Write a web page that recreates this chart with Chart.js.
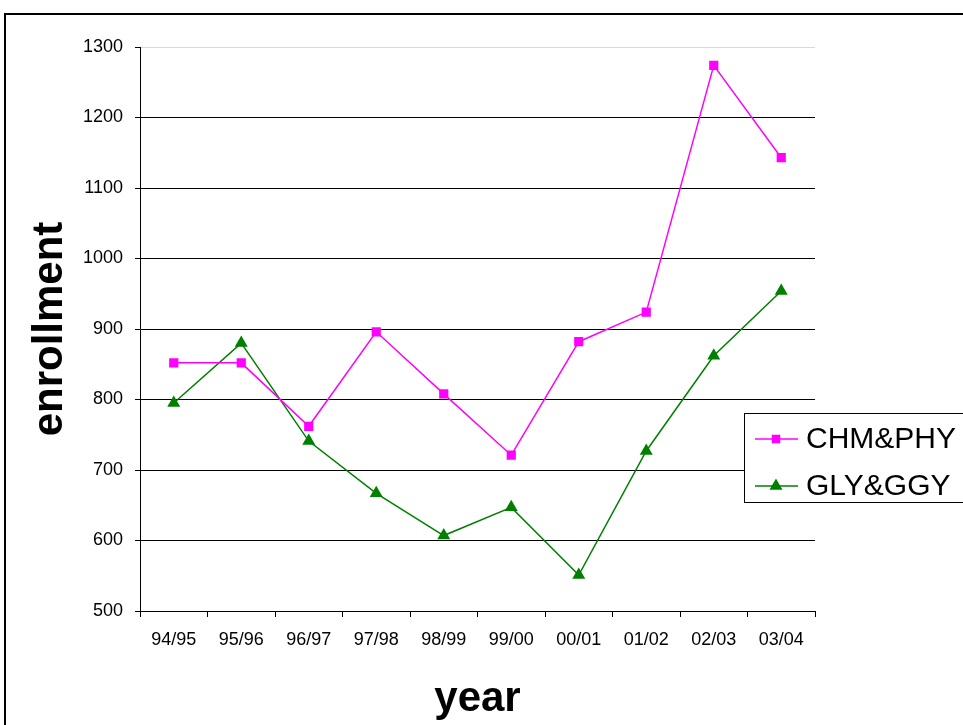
<!DOCTYPE html>
<html lang="en">
<head>
    <meta charset="UTF-8">
    <title>Enrollment by year</title>
    <script src="https://cdn.jsdelivr.net/npm/chart.js"></script>
    <style>
        html, body {
            margin: 0;
            padding: 0;
            background: #fff;
        }
        #wrap {
            width: 963px;
            height: 725px;
        }
    </style>
</head>
<body>

    <div id="wrap"><canvas id="chartEnroll" width="963" height="725"></canvas></div>

    <script>
        // data
        const years = ['94/95', '95/96', '96/97', '97/98', '98/99', '99/00', '00/01', '01/02', '02/03', '03/04'];
        const chmPhy = [852, 852, 762, 896, 808, 721, 882, 924, 1274, 1143];
        const glyGgy = [795, 880, 741, 667, 607, 647, 551, 727, 862, 954];

        // frame round the whole picture (runs off the right and bottom)
        const framePlugin = {
            id: 'frame',
            beforeDraw(chart) {
                const ctx = chart.ctx;
                ctx.save();
                ctx.strokeStyle = '#000';
                ctx.lineWidth = 2;
                ctx.beginPath();
                ctx.moveTo(5, 740);
                ctx.lineTo(5, 14);
                ctx.lineTo(980, 14);
                ctx.stroke();
                ctx.restore();
            }
        };

        // legend box like the original, sitting over the right edge
        const legendBox = {
            id: 'legendBox',
            afterDraw(chart) {
                const ctx = chart.ctx;
                const x0 = 744, y0 = 413, rowY = [439, 486];
                ctx.save();
                ctx.fillStyle = '#fff';
                ctx.fillRect(x0, y0, 240, 89);
                ctx.strokeStyle = '#000';
                ctx.lineWidth = 1;
                ctx.strokeRect(x0 + 0.5, y0 + 0.5, 240, 89);
                chart.data.datasets.forEach((ds, i) => {
                    const y = rowY[i];
                    ctx.strokeStyle = ds.borderColor;
                    ctx.lineWidth = ds.borderWidth;
                    ctx.beginPath();
                    ctx.moveTo(755, y);
                    ctx.lineTo(798, y);
                    ctx.stroke();
                    ctx.fillStyle = ds.pointBackgroundColor;
                    ctx.strokeStyle = ds.pointBorderColor;
                    Chart.helpers.drawPoint(ctx, {
                        pointStyle: ds.pointStyle,
                        radius: ds.pointRadius - 1.5,
                        borderWidth: 1
                    }, 776, y);
                    ctx.fillStyle = '#000';
                    ctx.font = '30px "Liberation Sans", Arial, sans-serif';
                    ctx.textBaseline = 'middle';
                    ctx.fillText(ds.label, 806, y + 1);
                });
                ctx.restore();
            }
        };

        const tickFont = { family: '"Liberation Sans", Arial, sans-serif', size: 18 };
        const titleFont = { family: '"Liberation Sans", Arial, sans-serif', size: 42, weight: 'bold' };

        new Chart(document.getElementById('chartEnroll').getContext('2d'), {
            type: 'line',
            data: {
                labels: years,
                datasets: [
                    {
                        label: 'CHM&PHY',
                        data: chmPhy,
                        borderColor: '#ff00ff',
                        borderWidth: 1.5,
                        pointStyle: 'rect',
                        pointRadius: 6.5,
                        pointBackgroundColor: '#ff00ff',
                        pointBorderColor: '#ff00ff',
                        pointBorderWidth: 0,
                        tension: 0,
                        fill: false
                    },
                    {
                        label: 'GLY&GGY',
                        data: glyGgy,
                        borderColor: '#008000',
                        borderWidth: 1.5,
                        pointStyle: 'triangle',
                        pointRadius: 7.5,
                        pointBackgroundColor: '#008000',
                        pointBorderColor: '#008000',
                        pointBorderWidth: 0,
                        tension: 0,
                        fill: false
                    }
                ]
            },
            options: {
                responsive: false,
                animation: false,
                layout: {
                    padding: { top: 47, right: 148, left: 0, bottom: 0 }
                },
                plugins: {
                    legend: { display: false },
                    tooltip: { enabled: false }
                },
                scales: {
                    x: {
                        offset: true,
                        afterFit(scale) { scale.height = 114; },
                        grid: {
                            offset: true,
                            drawOnChartArea: false,
                            drawTicks: true,
                            tickLength: 6,
                            tickColor: '#000'
                        },
                        border: { color: '#000', width: 1 },
                        ticks: {
                            color: '#000',
                            font: tickFont,
                            padding: 12,
                            maxRotation: 0,
                            autoSkip: false
                        },
                        title: {
                            display: true,
                            text: 'year',
                            color: '#000',
                            font: titleFont,
                            padding: { top: 16, bottom: 0 }
                        }
                    },
                    y: {
                        min: 500,
                        max: 1300,
                        afterFit(scale) { scale.width = 140; },
                        grid: {
                            color: ctx => ctx.tick && ctx.tick.value === 1300 ? '#d9d9d9' : '#000',
                            tickColor: '#000',
                            tickLength: 5
                        },
                        border: { color: '#000', width: 1 },
                        ticks: {
                            stepSize: 100,
                            color: '#000',
                            font: tickFont,
                            padding: 12,
                            callback: v => String(v)
                        },
                        title: {
                            display: true,
                            text: 'enrollment',
                            color: '#000',
                            font: titleFont,
                            padding: { top: 25, bottom: 0 }
                        }
                    }
                }
            },
            plugins: [framePlugin, legendBox]
        });
    </script>

</body>
</html>
